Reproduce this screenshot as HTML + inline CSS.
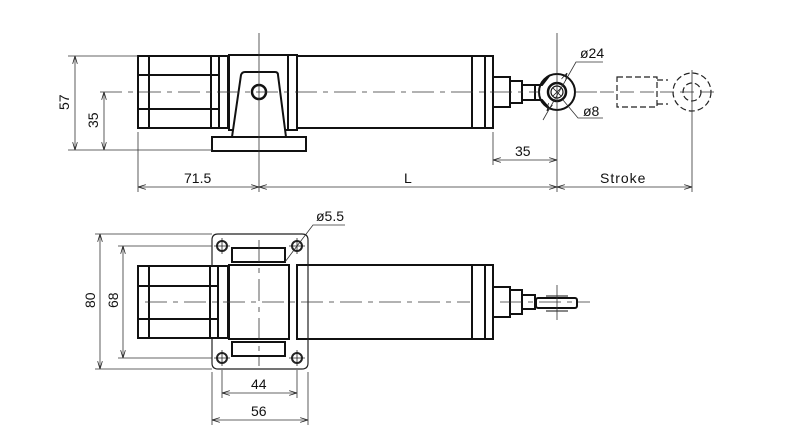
<!DOCTYPE html>
<html><head><style>body{margin:0;background:#fff}svg{display:block}text{font-family:"Liberation Sans",sans-serif;font-size:14px;fill:#111}</style></head><body>
<svg width="800" height="432" viewBox="0 0 800 432" xmlns="http://www.w3.org/2000/svg">
<defs><marker id="a" viewBox="0 0 10 6" refX="10" refY="3" markerWidth="10" markerHeight="6" orient="auto-start-reverse"><path d="M0,0L10,3L0,6" fill="none" stroke="#222" stroke-width="1"/></marker></defs>
<g fill="none" stroke="#111" stroke-width="2">
<rect x="138" y="56" width="90" height="72"/>
<line x1="149" y1="56" x2="149" y2="128"/><line x1="211" y1="56" x2="211" y2="128"/><line x1="219" y1="56" x2="219" y2="128"/>
<line x1="138" y1="75" x2="219" y2="75"/><line x1="138" y1="109" x2="219" y2="109"/>
<rect x="229" y="55" width="68" height="75"/>
<line x1="288" y1="55" x2="288" y2="130"/>
<rect x="297" y="56" width="196" height="72"/>
<line x1="472" y1="56" x2="472" y2="128"/><line x1="485" y1="56" x2="485" y2="128"/>
<path d="M232,137 L241,75 Q242,72 245,72 L275,72 Q278,72 278,75 L286,137" fill="#fff"/>
<rect x="212" y="137" width="94" height="14" fill="#fff"/>
<circle cx="259" cy="92" r="7" stroke-width="2.5"/>
<rect x="493" y="77" width="17" height="30"/><rect x="510" y="81" width="12" height="22"/><rect x="522" y="85" width="13" height="15"/>
<path d="M535,85 L542,85 L549,76 M535,100 L542,100 L549,108"/>
<circle cx="557" cy="92" r="18"/><circle cx="557" cy="92" r="9" stroke-width="2.5"/><circle cx="557" cy="92" r="6" stroke-width="1.2"/>
<path d="M553,88L561,96M561,88L553,96" stroke-width="0.8"/>
<rect x="138" y="266" width="90" height="72"/>
<line x1="149" y1="266" x2="149" y2="338"/><line x1="210" y1="266" x2="210" y2="338"/><line x1="218" y1="266" x2="218" y2="338"/>
<line x1="138" y1="286" x2="218" y2="286"/><line x1="138" y1="319" x2="218" y2="319"/>
<rect x="229" y="265" width="60" height="74"/>
<rect x="297" y="265" width="196" height="74"/>
<line x1="472" y1="265" x2="472" y2="339"/><line x1="485" y1="265" x2="485" y2="339"/>
<rect x="232" y="248" width="53" height="14"/><rect x="232" y="342" width="53" height="14"/>
<rect x="493" y="287" width="17" height="30"/><rect x="510" y="290" width="12" height="24"/><rect x="522" y="295" width="13" height="14"/>
<rect x="536" y="298" width="41" height="10" rx="2"/><line x1="546" y1="296" x2="568" y2="296" stroke-width="1"/><line x1="546" y1="311" x2="568" y2="311" stroke-width="1"/>
</g>
<g fill="none" stroke="#222" stroke-width="1.2">
<path d="M212,266 L212,240 Q212,234 218,234 L302,234 Q308,234 308,240 L308,363 Q308,369 302,369 L218,369 Q212,369 212,363 L212,339"/>
<circle cx="222" cy="246" r="5" stroke-width="2"/><circle cx="297" cy="246" r="5" stroke-width="2"/><circle cx="222" cy="358" r="5" stroke-width="2"/><circle cx="297" cy="358" r="5" stroke-width="2"/>
<path d="M222,238V254M214,246H230M297,238V254M289,246H305M222,350V366M214,358H230M297,350V366M289,358H305" stroke-width="0.8"/>
<g stroke-dasharray="6,3"><rect x="617" y="77" width="40" height="30"/><line x1="657" y1="80" x2="668" y2="80"/><line x1="657" y1="104" x2="668" y2="104"/><circle cx="692" cy="92" r="19"/><circle cx="692" cy="92" r="9"/></g>
</g>
<g fill="none" stroke="#333" stroke-width="0.8">
<path d="M100,92H540M575,92H600" stroke-dasharray="22,6,5,6"/>
<path d="M600,92H720" stroke-dasharray="14,6"/>
<path d="M145,302H470M500,302H590" stroke-dasharray="22,6,5,6"/>
<line x1="259" y1="33" x2="259" y2="192"/><line x1="557" y1="33" x2="557" y2="192"/><line x1="692" y1="70" x2="692" y2="192"/>
<path d="M259,240V366" stroke-dasharray="22,6,5,6"/>
<line x1="557" y1="285" x2="557" y2="320"/>
<line x1="68" y1="56" x2="138" y2="56"/><line x1="68" y1="150" x2="212" y2="150"/>
<line x1="138" y1="132" x2="138" y2="192"/><line x1="493" y1="132" x2="493" y2="165"/>
<line x1="95" y1="234" x2="212" y2="234"/><line x1="118" y1="246" x2="212" y2="246"/><line x1="95" y1="369" x2="212" y2="369"/><line x1="118" y1="358" x2="212" y2="358"/>
<line x1="222" y1="370" x2="222" y2="398"/><line x1="297" y1="370" x2="297" y2="398"/><line x1="212" y1="372" x2="212" y2="425"/><line x1="308" y1="372" x2="308" y2="425"/>
<line x1="75" y1="56" x2="75" y2="150" marker-start="url(#a)" marker-end="url(#a)"/>
<line x1="104" y1="92" x2="104" y2="150" marker-start="url(#a)" marker-end="url(#a)"/>
<line x1="138" y1="187" x2="259" y2="187" marker-start="url(#a)" marker-end="url(#a)"/>
<line x1="259" y1="187" x2="557" y2="187" marker-start="url(#a)" marker-end="url(#a)"/>
<line x1="557" y1="187" x2="692" y2="187" marker-start="url(#a)" marker-end="url(#a)"/>
<line x1="493" y1="160" x2="557" y2="160" marker-start="url(#a)" marker-end="url(#a)"/>
<line x1="100" y1="234" x2="100" y2="369" marker-start="url(#a)" marker-end="url(#a)"/>
<line x1="123" y1="246" x2="123" y2="358" marker-start="url(#a)" marker-end="url(#a)"/>
<line x1="222" y1="393" x2="297" y2="393" marker-start="url(#a)" marker-end="url(#a)"/>
<line x1="212" y1="420" x2="308" y2="420" marker-start="url(#a)" marker-end="url(#a)"/>
<path d="M543,120L576,62H603"/>
<path d="M548,109L547,111" marker-end="url(#a)"/>
<path d="M566,75L567,73" marker-end="url(#a)"/>
<path d="M563,100L578,118H603"/>
<path d="M285,262L297,246L313,225H345"/>
</g>
<text x="69" y="110" transform="rotate(-90 69 110)">57</text>
<text x="98" y="128" transform="rotate(-90 98 128)">35</text>
<text x="184" y="183">71.5</text>
<text x="404" y="183">L</text>
<text x="600" y="183" style="letter-spacing:1px">Stroke</text>
<text x="515" y="156">35</text>
<text x="580" y="58">ø24</text>
<text x="583" y="116">ø8</text>
<text x="316" y="221">ø5.5</text>
<text x="95" y="308" transform="rotate(-90 95 308)">80</text>
<text x="118" y="308" transform="rotate(-90 118 308)">68</text>
<text x="251" y="389">44</text>
<text x="251" y="416">56</text>
</svg>
</body></html>
